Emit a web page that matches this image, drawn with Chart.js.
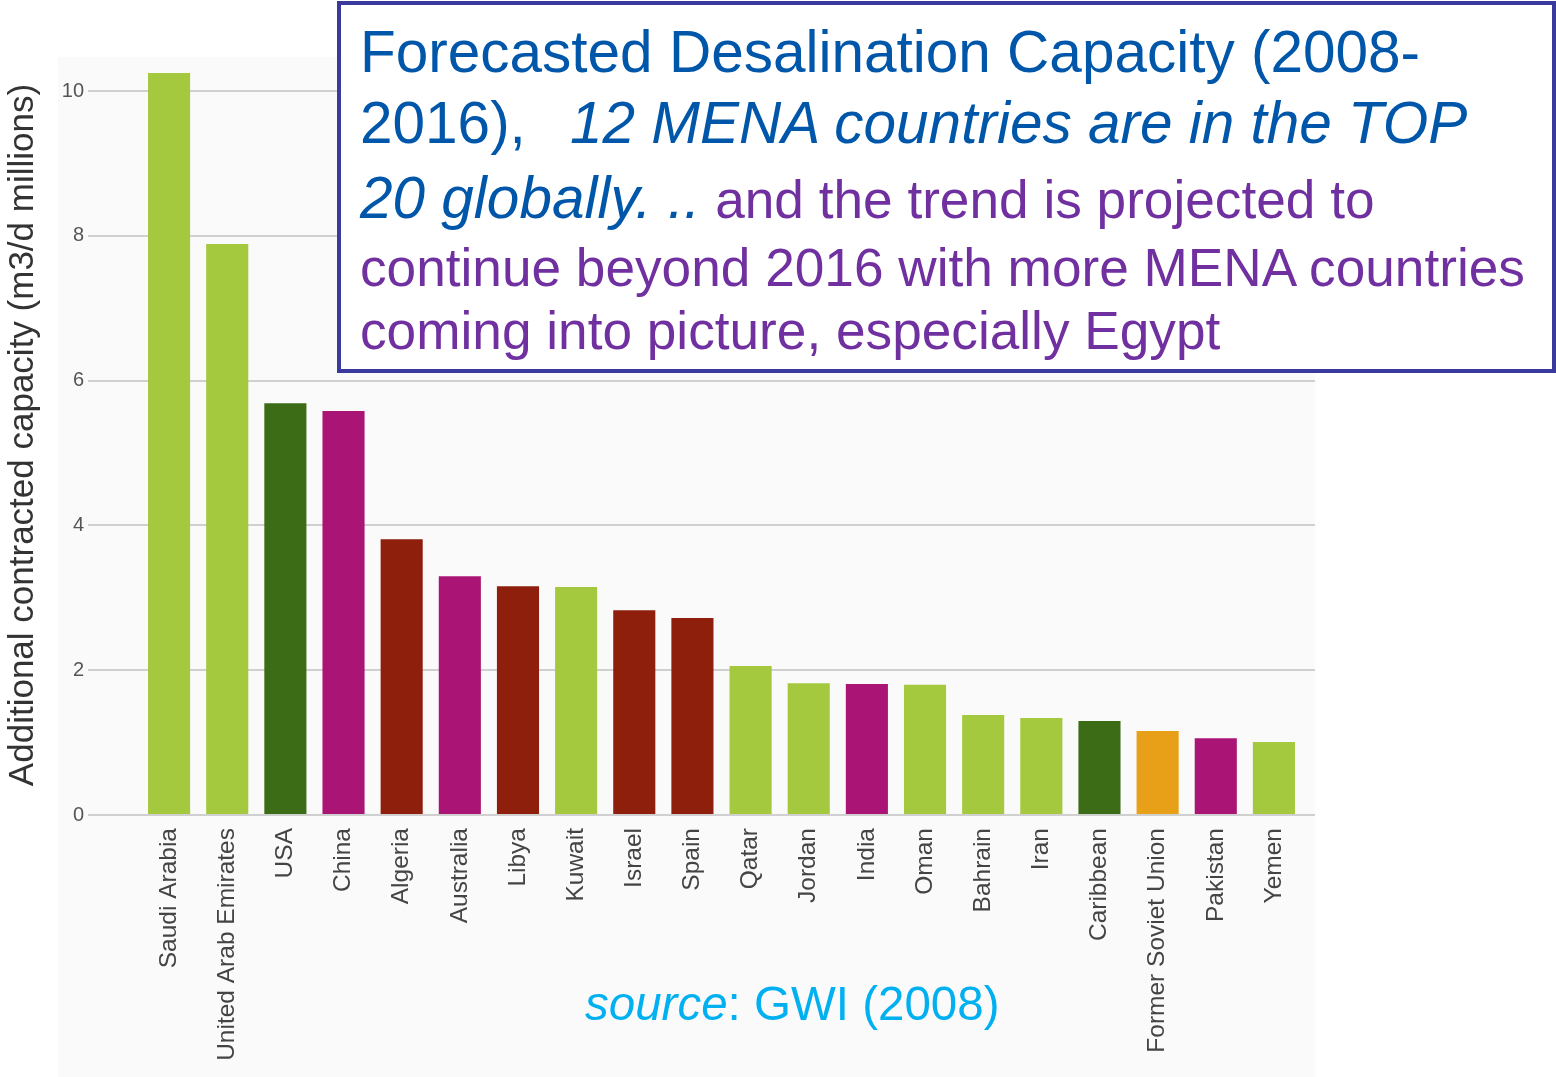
<!DOCTYPE html>
<html>
<head>
<meta charset="utf-8">
<script src="https://cdn.jsdelivr.net/npm/chart.js@4"></script>
<style>
    body {
        margin: 0;
        background: #ffffff;
        font-family: "Liberation Sans", Arial, sans-serif;
    }

    .page {
        position: relative;
        width: 1556px;
        height: 1077px;
        overflow: hidden;
    }

    .plot-bg {
        position: absolute;
        left: 58px;
        top: 57px;
        width: 1257px;
        height: 1020px;
        background: #fafafa;
    }

    .chart-wrap {
        position: absolute;
        left: 0;
        top: 0;
        width: 1556px;
        height: 1077px;
    }

    .note {
        position: absolute;
        left: 337px;
        top: 1px;
        width: 1211px;
        height: 364px;
        border: 4px solid #3a3a9c;
        background: #ffffff;
    }

    .line {
        position: absolute;
        left: 19px;
        white-space: pre;
        line-height: 1;
    }

    .blue { color: #0057aa; font-size: 58.5px; }
    .purple { color: #7030a0; font-size: 53.2px; }
    .it { font-style: italic; }

    .source {
        position: absolute;
        left: 585px;
        top: 980px;
        font-size: 47.5px;
        line-height: 1;
        color: #00b0f0;
        white-space: pre;
    }
</style>
</head>
<body>
<div class="page">
    <div class="plot-bg"></div>
    <div class="chart-wrap"><canvas id="canvas"></canvas></div>

    <div class="note">
        <div class="line blue" style="top: 18px;">Forecasted Desalination Capacity (2008-</div>
        <div class="line blue" style="top: 89px;">2016),<span class="it" style="margin-left: 44px;">12 MENA countries are in the TOP</span></div>
        <div class="line blue" style="top: 164px;"><span class="it">20 globally. ..</span><span class="purple"> and the trend is projected to</span></div>
        <div class="line purple" style="top: 236px;">continue beyond 2016 with more MENA countries</div>
        <div class="line purple" style="top: 299px;">coming into picture, especially Egypt</div>
    </div>

    <div class="source"><i>source</i>: GWI (2008)</div>
</div>

<script>
// data
const countries = [
    'Saudi Arabia', 'United Arab Emirates', 'USA', 'China', 'Algeria',
    'Australia', 'Libya', 'Kuwait', 'Israel', 'Spain',
    'Qatar', 'Jordan', 'India', 'Oman', 'Bahrain',
    'Iran', 'Caribbean', 'Former Soviet Union', 'Pakistan', 'Yemen'
];
const capacity = [
    10.25, 7.89, 5.69, 5.58, 3.81,
    3.30, 3.16, 3.15, 2.83, 2.72,
    2.06, 1.82, 1.81, 1.80, 1.38,
    1.34, 1.30, 1.16, 1.06, 1.01
];
const regions = [
    'gulf', 'gulf', 'americas', 'asia', 'med',
    'asia', 'med', 'gulf', 'med', 'med',
    'gulf', 'gulf', 'asia', 'gulf', 'gulf',
    'gulf', 'americas', 'fsu', 'asia', 'gulf'
];
const yTicks = [0, 2, 4, 6, 8, 10];

const regionColors = {
    gulf: '#a4c93f',
    americas: '#3c6c16',
    asia: '#aa1474',
    med: '#8e1f0d',
    fsu: '#e9a019'
};

const GRID_COLOR = '#d0d0d0';
const GRID_RIGHT = 1315;

// the original grid runs a little past the last bar
const gridExtend = {
    id: 'gridExtend',
    beforeDatasetsDraw(chart) {
        const { ctx, chartArea, scales: { y } } = chart;
        ctx.save();
        ctx.strokeStyle = GRID_COLOR;
        ctx.lineWidth = 2;
        yTicks.forEach(v => {
            const py = Math.round(y.getPixelForValue(v));
            ctx.beginPath();
            ctx.moveTo(chartArea.right, py);
            ctx.lineTo(GRID_RIGHT, py);
            ctx.stroke();
        });
        ctx.restore();
    }
};

const ctx = document.getElementById('canvas').getContext('2d');

new Chart(ctx, {
    type: 'bar',
    data: {
        labels: countries,
        datasets: [{
            data: capacity,
            backgroundColor: regions.map(r => regionColors[r]),
            borderWidth: 0,
            barPercentage: 0.724,
            categoryPercentage: 1
        }]
    },
    options: {
        responsive: true,
        maintainAspectRatio: false,
        animation: false,
        layout: { padding: { left: 0, right: 253, top: 55, bottom: 0 } },
        plugins: {
            legend: { display: false },
            tooltip: { enabled: false }
        },
        scales: {
            x: {
                grid: { display: false, drawTicks: false },
                border: { display: false },
                ticks: {
                    autoSkip: false,
                    maxRotation: 90,
                    minRotation: 90,
                    padding: 13,
                    color: '#444',
                    font: { family: 'Liberation Sans, Arial, sans-serif', size: 24.5 }
                },
                afterFit(scale) { scale.height = 262; }
            },
            y: {
                min: 0,
                max: 10.5,
                border: { display: false },
                grid: { color: GRID_COLOR, lineWidth: 2, tickLength: 52 },
                ticks: {
                    stepSize: 2,
                    includeBounds: false,
                    padding: 4,
                    color: '#555',
                    font: { family: 'Liberation Sans, Arial, sans-serif', size: 20 }
                },
                title: {
                    display: true,
                    text: 'Additional contracted capacity (m3/d millions)',
                    color: '#333',
                    padding: { top: 2, bottom: 0 },
                    font: { family: 'Liberation Sans, Arial, sans-serif', size: 35 }
                },
                afterFit(scale) { scale.width = 140; }
            }
        }
    },
    plugins: [gridExtend]
});
</script>
</body>
</html>
